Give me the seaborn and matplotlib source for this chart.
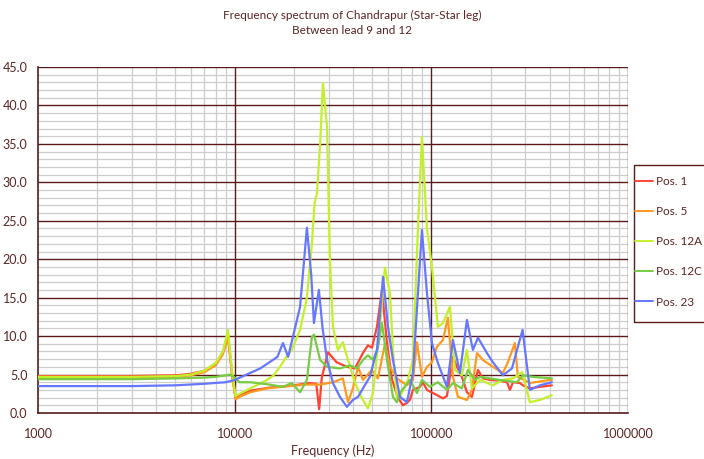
import pandas as pd
import matplotlib
matplotlib.use('Agg')
import matplotlib.pyplot as plt
import seaborn as sns
from matplotlib.ticker import MultipleLocator, LogLocator, FuncFormatter, NullFormatter
from matplotlib.lines import Line2D
from matplotlib.patches import Rectangle

# ---- data (frequency in Hz, value) ----
pos1_f = [1000, 2000, 3000, 5000, 6000, 7000, 8000, 8700, 9250, 9700, 10100, 10600, 12000, 15000,
          20000, 24000, 26000, 26900, 27700, 29800, 33000, 37200, 40900, 44900, 47600, 49900, 52900,
          56100, 59500, 63200, 67600, 71700, 75000, 77800, 80600, 87500, 90600, 95000, 101900, 114600,
          120000, 128800, 135000, 143000, 151700, 160800, 172600, 182900, 198600, 223200, 242300,
          251000, 260000, 282000, 292000, 317000, 356500, 410000]
pos1_v = [4.8, 4.8, 4.8, 4.9, 5.1, 5.5, 6.4, 7.8, 10.2, 5.0, 2.0, 2.3, 2.9, 3.3,
          3.6, 3.9, 3.8, 0.5, 4.5, 7.9, 6.6, 6.0, 5.8, 7.8, 8.8, 8.5, 11.2,
          16.0, 9.1, 4.3, 2.0, 1.0, 1.3, 1.7, 3.0, 3.4, 4.0, 3.0, 2.6, 1.9,
          2.2, 7.3, 6.0, 4.7, 2.7, 2.1, 5.6, 4.5, 4.3, 4.2, 4.0,
          3.0, 4.0, 3.9, 3.6, 3.2, 3.4, 3.6]

pos5_f = [1000, 3000, 5000, 6000, 7000, 8000, 8700, 9250, 9700, 10100, 10600, 12000, 14600, 19100,
          23300, 27200, 31600, 35500, 37700, 39900, 42400, 44900, 49900, 53500, 58100, 61600, 66800,
          75200, 80600, 84500, 89600, 95000, 100700, 106700, 114600, 121400, 128800, 136600, 151700,
          160800, 170600, 182900, 205600, 231200, 245000, 266000, 275500, 317000, 400700, 410000]
pos5_v = [4.6, 4.6, 4.7, 4.9, 5.3, 6.2, 7.6, 9.8, 5.0, 1.8, 2.1, 2.7, 3.2, 3.5,
          3.7, 3.7, 4.0, 4.5, 1.4, 3.2, 6.0, 4.3, 5.6, 4.5, 9.0, 6.0, 4.5,
          3.6, 4.3, 9.2, 4.7, 6.0, 6.6, 8.6, 9.5, 12.4, 4.7, 2.1, 1.7,
          3.0, 7.8, 6.9, 6.0, 5.2, 6.6, 9.1, 4.7, 3.9, 4.3, 4.3]

pos12a_f = [1000, 3000, 5000, 6000, 7000, 8000, 8700, 9250, 9700, 10100, 10600, 12000, 14600, 15800,
            17000, 18000, 19500, 21500, 23300, 24700, 25500, 26200, 27200, 28100, 29500, 30500, 31600,
            33500, 35500, 37700, 40900, 44900, 47600, 50500, 54800, 58100, 61600, 63800, 66800, 69200,
            76000, 80600, 85500, 89600, 95000, 100700, 108000, 114600, 124300, 131800, 143000, 151700,
            160800, 176600, 205600, 231200, 260000, 290000, 317000, 356500, 410000]
pos12a_v = [4.7, 4.7, 4.8, 5.0, 5.5, 6.5, 8.0, 10.8, 5.5, 2.2, 2.5, 3.2, 4.3, 4.9,
            6.0, 7.0, 8.2, 10.8, 15.0, 22.0, 27.3, 28.6, 35.0, 42.9, 37.2, 19.9, 11.2,
            8.2, 9.2, 6.9, 3.9, 1.7, 0.6, 2.6, 11.2, 18.9, 15.6, 8.2, 2.0, 2.1,
            4.3, 6.9, 24.0, 35.9, 24.0, 19.0, 11.2, 11.7, 13.8, 5.6, 4.9, 8.2,
            3.2, 4.3, 3.6, 4.3, 4.5, 5.3, 1.4, 1.7, 2.3]

pos12c_f = [1000, 3000, 5000, 7000, 8000, 9000, 9500, 10000, 10600, 12000, 15000, 17600, 19500, 21500,
            23300, 24700, 25300, 27200, 29500, 34300, 38600, 41900, 44900, 47600, 50500, 53500, 56100,
            59500, 63800, 66800, 69200, 77800, 84500, 89600, 98400, 108000, 120000, 128800, 143000,
            153500, 166600, 176600, 223200, 272000, 292000, 328600, 410000]
pos12c_v = [4.4, 4.4, 4.5, 4.6, 4.7, 4.9, 5.0, 4.6, 4.0, 4.0, 3.7, 3.4, 3.9, 2.7,
            4.3, 9.9, 10.2, 6.9, 6.0, 5.8, 6.2, 5.8, 6.9, 7.5, 6.9, 8.5, 11.7,
            6.9, 2.1, 1.4, 2.6, 4.3, 2.6, 4.3, 3.4, 4.0, 3.0, 3.9, 3.2,
            5.6, 4.3, 4.7, 4.3, 4.0, 4.9, 4.7, 4.5]

pos23_f = [1000, 3000, 5000, 7000, 9000, 10000, 13500, 16500, 17600, 18700, 21500, 23300, 24500, 25300,
           26800, 28000, 29500, 31600, 34300, 37200, 39900, 42400, 44900, 48700, 52900, 56800, 60200,
           63800, 69200, 75200, 80600, 85500, 89600, 95000, 100700, 108000, 120000, 128800, 139800,
           151700, 162700, 172600, 191700, 205600, 231200, 257000, 291000, 317000, 356500, 410000]
pos23_v = [3.5, 3.5, 3.6, 3.8, 4.0, 4.3, 5.8, 7.3, 9.1, 7.3, 13.8, 24.1, 18.0, 11.7,
           16.0, 11.0, 6.9, 3.9, 2.1, 0.8, 1.7, 2.1, 3.2, 4.7, 8.2, 17.7, 11.2,
           6.9, 2.1, 1.4, 5.2, 15.6, 23.8, 15.6, 9.1, 6.5, 3.4, 9.5, 5.2,
           12.1, 8.2, 9.8, 7.8, 6.6, 4.9, 5.8, 10.8, 3.0, 3.6, 4.0]

series = ['Pos. 1', 'Pos. 5', 'Pos. 12A', 'Pos. 12C', 'Pos. 23']
colors = ['#FF4433', '#FF9922', '#C3F02A', '#77CC44', '#6677FF']

frames = []
for name, f, v in zip(series, [pos1_f, pos5_f, pos12a_f, pos12c_f, pos23_f],
                      [pos1_v, pos5_v, pos12a_v, pos12c_v, pos23_v]):
    frames.append(pd.DataFrame({'Frequency': f, 'Value': v, 'Series': name}))
df = pd.concat(frames, ignore_index=True)

maroon = '#5A1A1A'
txt = '#5C2424'

sns.set_theme(style='white')
plt.rcParams['font.family'] = ['Lato', 'DejaVu Sans']

fig = plt.figure(figsize=(7.04, 4.59), dpi=100)
ax = fig.add_axes([38 / 704, 1 - 413 / 459, 590 / 704, 346 / 459])

sns.lineplot(data=df, x='Frequency', y='Value', hue='Series', hue_order=series,
             palette=dict(zip(series, colors)), linewidth=1.6, sort=False,
             legend=False, ax=ax, zorder=3)

ax.set_xscale('log')
ax.set_xlim(1000, 1000000)
ax.set_ylim(0, 45)
ax.yaxis.set_major_locator(MultipleLocator(5))
ax.yaxis.set_minor_locator(MultipleLocator(1))
ax.xaxis.set_major_locator(LogLocator(base=10, numticks=10))
ax.xaxis.set_minor_locator(LogLocator(base=10, subs=range(2, 10), numticks=20))
ax.xaxis.set_major_formatter(FuncFormatter(lambda x, p: '%d' % round(x)))
ax.xaxis.set_minor_formatter(NullFormatter())
ax.yaxis.set_major_formatter(FuncFormatter(lambda y, p: '%.1f' % y))

# light minor grid from the axes, dark major grid drawn on top of it
ax.grid(which='minor', color='#CDCDCD', linewidth=0.9)
ax.grid(which='major', visible=False)
ax.set_axisbelow(True)
for yv in range(5, 50, 5):
    ax.axhline(yv, color=maroon, linewidth=1.0, zorder=1)
for xv in [10000, 100000, 1000000]:
    ax.axvline(xv, color=maroon, linewidth=1.0, zorder=1)

for s in ['left', 'bottom']:
    ax.spines[s].set_color(maroon)
    ax.spines[s].set_linewidth(1.2)
for s in ['top', 'right']:
    ax.spines[s].set_visible(False)

ax.tick_params(axis='both', which='major', direction='out', length=4, width=1,
               color=maroon, labelcolor=txt, labelsize=9)
ax.tick_params(axis='x', which='major', pad=7)
ax.tick_params(axis='both', which='minor', length=0)
ax.set_xlabel('Frequency (Hz)', fontsize=9, color=txt, labelpad=3)
ax.set_ylabel('')

fig.text(0.5, 1 - 15 / 459, 'Frequency spectrum of Chandrapur (Star-Star leg)',
         ha='center', va='center', fontsize=8.5, color=txt)
fig.text(0.5, 1 - 31 / 459, 'Between lead 9 and 12',
         ha='center', va='center', fontsize=8.5, color=txt)

# legend box running off the right edge, as in the reference
fig.patches.append(Rectangle((634 / 704, 1 - 322 / 459), 80 / 704, 157 / 459,
                             transform=fig.transFigure, fill=False,
                             edgecolor=maroon, linewidth=1.0))
handles = [Line2D([0], [0], color=c, lw=1.4) for c in colors]
leg = fig.legend(handles, series, loc='upper left', bbox_to_anchor=(635 / 704, 1 - 176 / 459),
                 frameon=False, fontsize=8.5, labelspacing=1.62, handlelength=1.5,
                 handletextpad=0.3, borderpad=0, borderaxespad=0)
for t in leg.get_texts():
    t.set_color(txt)

fig.savefig('out.png', dpi=100)
